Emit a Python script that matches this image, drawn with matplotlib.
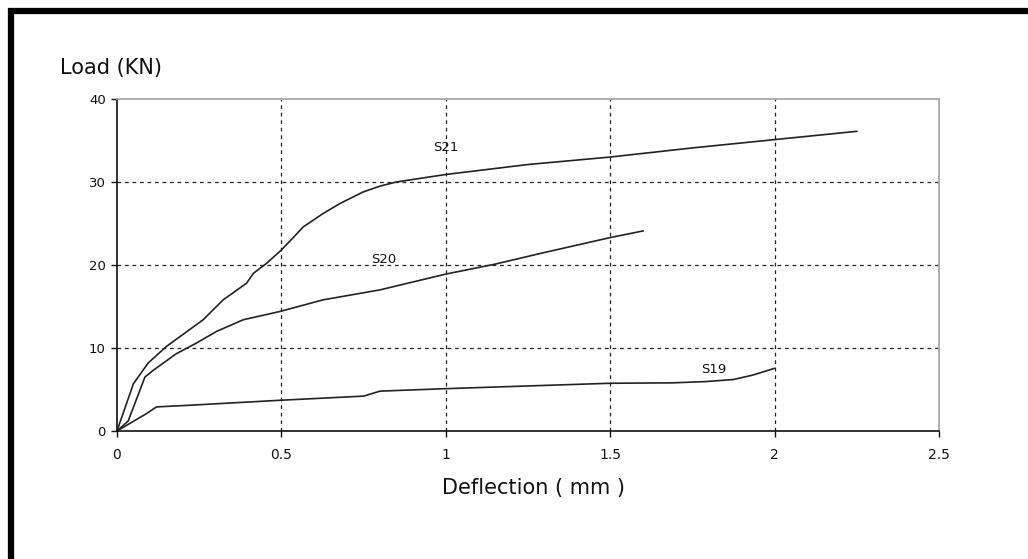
import matplotlib
matplotlib.use("Agg")
import matplotlib.pyplot as plt
from matplotlib.lines import Line2D

# Load-deflection data
s21_x = [0, 0.05, 0.095, 0.151, 0.262, 0.323, 0.394, 0.415, 0.455, 0.50, 0.567,
         0.627, 0.678, 0.749, 0.80, 0.85, 0.90, 1.0, 1.25, 1.5, 1.75, 2.0, 2.25]
s21_y = [0, 5.7, 8.2, 10.2, 13.4, 15.8, 17.8, 19.0, 20.2, 21.8, 24.6,
         26.2, 27.4, 28.8, 29.5, 30.0, 30.3, 30.9, 32.1, 33.0, 34.1, 35.1, 36.1]

s20_x = [0, 0.034, 0.085, 0.11, 0.18, 0.242, 0.303, 0.384, 0.496, 0.627,
         0.80, 1.0, 1.15, 1.3, 1.5, 1.6]
s20_y = [0, 1.2, 6.5, 7.3, 9.3, 10.6, 12.0, 13.4, 14.4, 15.8,
         17.0, 18.9, 20.1, 21.5, 23.3, 24.1]

s19_x = [0, 0.09, 0.12, 0.22, 0.496, 0.75, 0.8, 1.0, 1.5, 1.69, 1.79, 1.875, 1.935, 2.0]
s19_y = [0, 2.1, 2.9, 3.1, 3.7, 4.2, 4.8, 5.1, 5.75, 5.8, 5.95, 6.2, 6.75, 7.55]

labels = ["S21", "S20", "S19"]
label_x = [1.0, 0.81, 1.816]
label_y = [34.2, 20.6, 7.45]

x_ticks = [0, 0.5, 1, 1.5, 2, 2.5]
x_tick_labels = ["0", "0.5", "1", "1.5", "2", "2.5"]
y_ticks = [0, 10, 20, 30, 40]

fig = plt.figure(figsize=(10.28, 5.59), dpi=100)
ax = fig.add_axes([0.1138, 0.229, 0.7996, 0.594])

for xs, ys in [(s21_x, s21_y), (s20_x, s20_y), (s19_x, s19_y)]:
    ax.plot(xs, ys, color="#222222", linewidth=1.2)

for name, lx, ly in zip(labels, label_x, label_y):
    ax.text(lx, ly, name, fontsize=9.5, ha="center", va="center", color="#111111")

ax.set_xlim(0, 2.5)
ax.set_ylim(0, 40)
ax.set_xticks(x_ticks)
ax.set_xticklabels(x_tick_labels)
ax.set_yticks(y_ticks)
ax.tick_params(axis="both", direction="out", length=4, width=1,
               colors="#111111")
ax.tick_params(axis="x", labelsize=10, pad=8)
ax.tick_params(axis="y", labelsize=9.5, pad=4)
ax.grid(True, color="#222222", linestyle=(0, (3, 3)), linewidth=0.9)
# no gridlines on the frame edges
xg = ax.get_xgridlines()
yg = ax.get_ygridlines()
for gl in [xg[0], xg[-1], yg[0], yg[-1]]:
    gl.set_visible(False)

ax.spines["left"].set_color("#111111")
ax.spines["bottom"].set_color("#111111")
ax.spines["left"].set_linewidth(1.2)
ax.spines["bottom"].set_linewidth(1.2)
ax.spines["top"].set_color("#a8a8a8")
ax.spines["right"].set_color("#a8a8a8")
ax.spines["top"].set_linewidth(1.3)
ax.spines["right"].set_linewidth(1.3)

fig.text(533 / 1028, 1 - 488 / 559, "Deflection ( mm )", fontsize=15,
         ha="center", va="center", color="#111111")
fig.text(60 / 1028, 1 - 68 / 559, "Load (KN)", fontsize=15, ha="left",
         va="center", color="#111111")

# black frame on the top and left edges
fig.add_artist(Line2D([8 / 1028, 1], [1 - 11 / 559, 1 - 11 / 559], color="black",
                      linewidth=4.5, solid_capstyle="butt", transform=fig.transFigure))
fig.add_artist(Line2D([10.5 / 1028, 10.5 / 1028], [0, 1 - 8 / 559], color="black",
                      linewidth=4.5, solid_capstyle="butt", transform=fig.transFigure))

fig.savefig("out.png", dpi=100)
